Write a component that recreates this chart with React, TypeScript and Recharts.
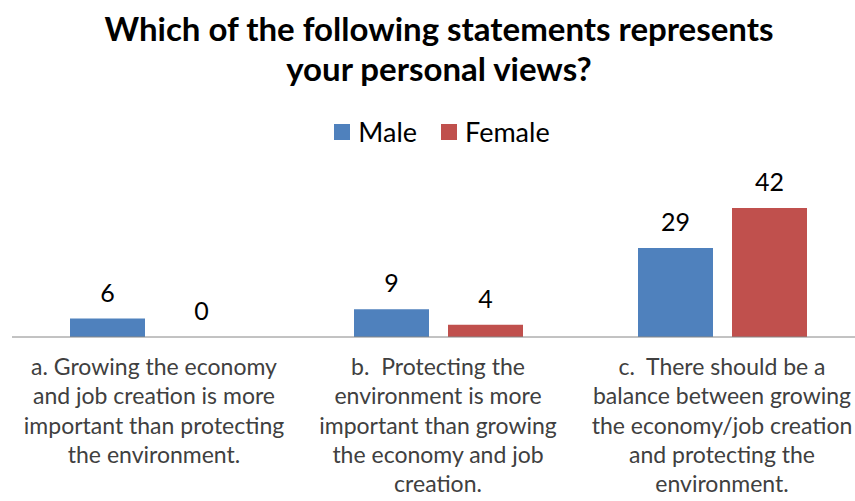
import React from 'react';
import { BarChart, Bar, XAxis, YAxis, LabelList } from 'recharts';

const CATEGORY_KEYS = ['a', 'b', 'c'];
const CATEGORY_LINES: string[][] = [
  ['a. Growing the economy', 'and job creation is more', 'important than protecting', 'the environment.'],
  ['b.  Protecting the', 'environment is more', 'important than growing', 'the economy and job', 'creation.'],
  ['c.  There should be a', 'balance between growing', 'the economy/job creation', 'and protecting the', 'environment.'],
];
const MALE = [6, 9, 29];
const FEMALE = [0, 4, 42];

const BLUE = '#4F81BD';
const RED = '#C0504D';
const FONT = 'Lato, "Open Sans", sans-serif';

const data = CATEGORY_KEYS.map((key, i) => ({ key, male: MALE[i], female: FEMALE[i] }));

const CategoryTick = ({ x, y, payload }: any) => {
  const lines = CATEGORY_LINES[CATEGORY_KEYS.indexOf(payload.value)] || [];
  return (
    <text x={x} y={y} textAnchor="middle" fill="#404040" fontSize={23} fontFamily={FONT} style={{ whiteSpace: 'pre' }}>
      {lines.map((line, i) => (
        <tspan key={i} x={x} dy={i === 0 ? 38 : 29.3}>{line}</tspan>
      ))}
    </text>
  );
};

const LegendBox = () => (
  <div style={{
    position: 'absolute', top: 115, left: 0, width: 884, display: 'flex',
    justifyContent: 'center', alignItems: 'center', fontFamily: FONT, fontSize: 27, color: '#000',
  }}>
    <span style={{ width: 16, height: 16, background: BLUE, marginRight: 8 }} />
    <span style={{ marginRight: 24 }}>Male</span>
    <span style={{ width: 16, height: 16, background: RED, marginRight: 8 }} />
    <span>Female</span>
  </div>
);

export default function App() {
  return (
    <div style={{ position: 'relative', width: 855, height: 501, overflow: 'hidden', background: '#fff' }}>
      <style>{'html, body { margin: 0; overflow: hidden; }'}</style>
      <div style={{
        position: 'absolute', top: 8, left: 0, width: 878, textAlign: 'center',
        fontFamily: FONT, fontWeight: 700, fontSize: 33, lineHeight: '40px', color: '#000',
      }}>
        Which of the following statements represents<br />your personal views?
      </div>
      <LegendBox />
      <BarChart width={868} height={508} data={data} margin={{ top: 183.5, right: 4, bottom: 11, left: 12 }} barSize={75} barGap={19}>
        <XAxis dataKey="key" axisLine={{ stroke: '#868686' }} tickLine={false} tickSize={0} tickMargin={0}
          tick={<CategoryTick />} height={160} interval={0} />
        <YAxis hide domain={[0, 50]} />
        <Bar dataKey="male" fill={BLUE} isAnimationActive={false}>
          <LabelList dataKey="male" position="top" offset={17} fill="#000" fontSize={25} fontFamily={FONT} />
        </Bar>
        <Bar dataKey="female" fill={RED} isAnimationActive={false} minPointSize={0.01}>
          <LabelList dataKey="female" position="top" offset={17} fill="#000" fontSize={25} fontFamily={FONT} />
        </Bar>
      </BarChart>
    </div>
  );
}
